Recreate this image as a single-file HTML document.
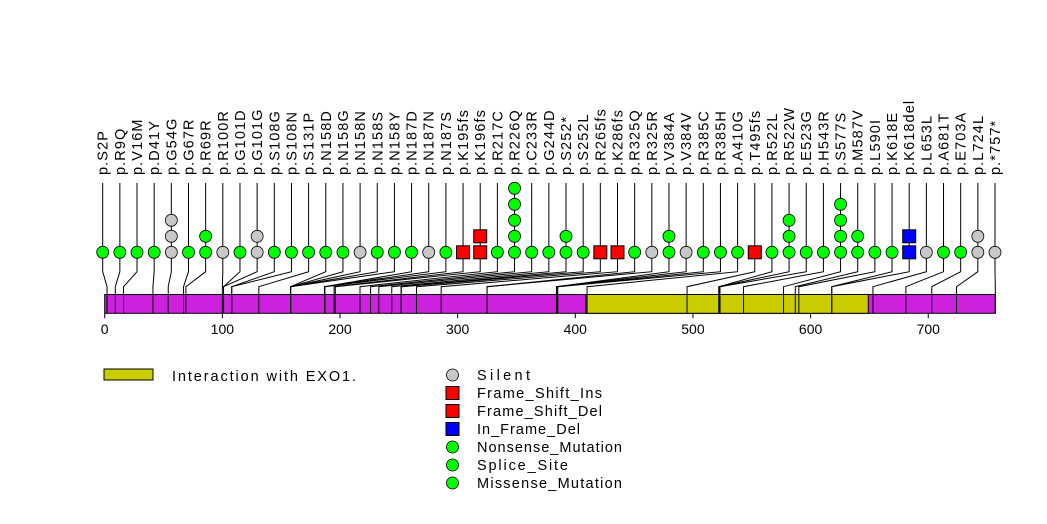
<!DOCTYPE html>
<html><head><meta charset="utf-8"><style>
html,body{margin:0;padding:0;background:#fff;}
svg{display:block;font-family:"Liberation Sans",sans-serif;}
</style></head><body>
<svg id="chart" width="1047" height="524" viewBox="0 0 1047 524"></svg>
<script>
const labels=["p.S2P","p.R9Q","p.V16M","p.D41Y","p.G54G","p.G67R","p.R69R","p.R100R","p.G101D","p.G101G","p.S108G","p.S108N","p.S131P","p.N158D","p.N158G","p.N158N","p.N158S","p.N158Y","p.N187D","p.N187N","p.N187S","p.K195fs","p.K196fs","p.R217C","p.R226Q","p.C233R","p.G244D","p.S252*","p.S252L","p.R265fs","p.K286fs","p.R325Q","p.R325R","p.V384A","p.V384V","p.R385C","p.R385H","p.A410G","p.T495fs","p.R522L","p.R522W","p.E523G","p.H543R","p.S577S","p.M587V","p.L590I","p.K618E","p.K618del","p.L653L","p.A681T","p.E703A","p.L724L","p.*757*"];
const positions=[2,9,16,41,54,67,69,100,101,101,108,108,131,158,158,158,158,158,187,187,187,195,196,217,226,233,244,252,252,265,286,325,325,384,384,385,385,410,495,522,522,523,543,577,587,590,618,618,653,681,703,724,757];
const counts=[1,1,1,1,3,1,2,1,1,2,1,1,1,1,1,1,1,1,1,1,1,1,2,1,5,1,1,2,1,1,1,1,1,2,1,1,1,1,1,1,3,1,1,4,2,1,1,2,1,1,1,2,1];
const types=["g","g","g","g","s","g","g","s","g","s","g","g","g","g","g","s","g","g","g","s","g","f","f","g","g","g","g","g","g","f","f","g","s","g","s","g","g","g","f","g","g","g","g","g","g","g","g","b","s","g","g","s","s"];
const domainStart=[0,409,649];
const domainEnd=[409,649,757];
const ticks=[0,100,200,300,400,500,600,700];
const legendNames=["Silent","Frame_Shift_Ins","Frame_Shift_Del","In_Frame_Del","Nonsense_Mutation","Splice_Site","Missense_Mutation"];
const legendTypes=["s","f","f","b","g","g","g"];
const legendWidths=[53,125,125,103,145,91,145];

const NS="http://www.w3.org/2000/svg";
const svg=document.getElementById('chart');
const X0=104.7,SC=1.1765;
function xs(v){return X0+v*SC;}
function lx(i){return 102.7+i*(995-102.7)/(labels.length-1);}
const colors={g:"#00ff00",s:"#c8c8c8",f:"#ff0000",b:"#0000ff"};
function mk(tag,attrs){const e=document.createElementNS(NS,tag);for(const k in attrs)e.setAttribute(k,attrs[k]);svg.appendChild(e);return e;}
function marker(t,cx,cy){
  let e;
  if(t==="f"||t==="b"){e=mk('rect',{x:cx-6.5,y:cy-6.5,width:13,height:13,fill:colors[t],stroke:"#000","stroke-width":1});}
  else{e=mk('circle',{cx:cx,cy:cy,r:6,fill:colors[t],stroke:"#000","stroke-width":0.8});}
  return e;
}
const BT=294.5,BB=313.3;
let bar=mk('rect',{x:xs(0),y:BT,width:xs(757)-xs(0),height:BB-BT,fill:"#cc22dd",stroke:"#000","stroke-width":1});


let dom=mk('rect',{x:xs(domainStart[1]),y:BT,width:xs(domainEnd[1])-xs(domainStart[1]),height:BB-BT,fill:"#c8cc00",stroke:"#000","stroke-width":1});


for(let i=0;i<labels.length;i++){
  const x=lx(i),px=xs(positions[i]);
  const top=183, base=252.3;
  let p=mk('polyline',{points:`${x},${top} ${x},271.7 ${px},286.7 ${px},${BB}`,fill:"none",stroke:"#000","stroke-width":1});
  
  
  for(let k=0;k<counts[i];k++){
    let t=types[i];
    let m=marker(t,x,base-16*k);
    
    
  }
  let tx=mk('text',{x:0,y:0,transform:`translate(${x+5},175) rotate(-90)`,"font-size":14.5,"letter-spacing":"1.1",fill:"#000"});
  tx.textContent=labels[i];
  
  
}
ticks.forEach(t=>{
  let l=mk('line',{x1:xs(t),x2:xs(t),y1:BB,y2:BB+5,stroke:"#000"});
  
  
  let tx=mk('text',{x:xs(t),y:334,"text-anchor":"middle","font-size":14,fill:"#000"});
  tx.textContent=t;
  
  
});
let lr=mk('rect',{x:104,y:369,width:49,height:11,fill:"#c8cc00",stroke:"#000","stroke-width":1});


let lt=mk('text',{x:172,y:381,"font-size":14.5,fill:"#000",textLength:184,lengthAdjust:"spacing"});
lt.textContent="Interaction with EXO1.";


legendNames.forEach((n,i)=>{
  const y=375+18*i;
  let m=marker(legendTypes[i],452.5,y);
  
  
  let t=mk('text',{x:477,y:y+5,"font-size":14.5,fill:"#000",textLength:legendWidths[i],lengthAdjust:"spacing"});
  t.textContent=n;
  
  
});
</script>
</body></html>
